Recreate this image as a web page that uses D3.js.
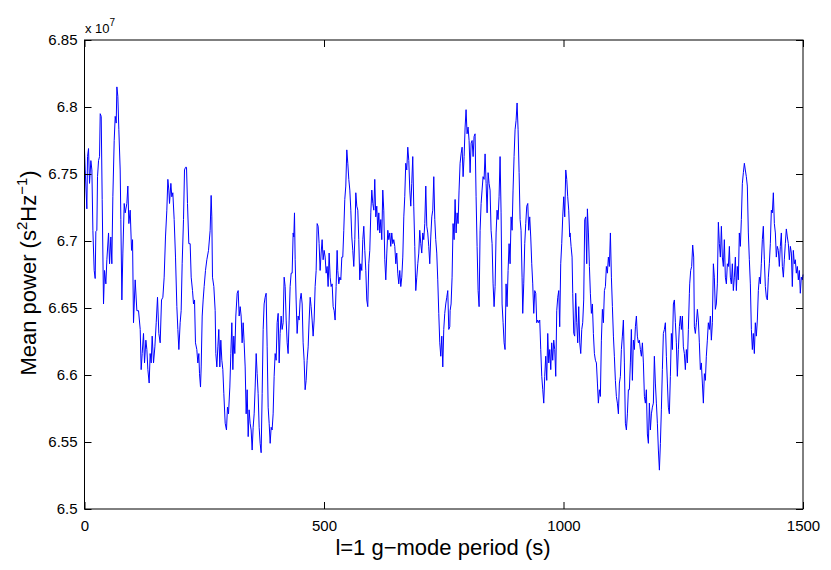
<!DOCTYPE html>
<html><head><meta charset="utf-8">
<script src="https://cdn.jsdelivr.net/npm/d3@7"></script>
<style>
body{margin:0;background:#fff}
text{font-family:"Liberation Sans",Arial,Helvetica,sans-serif;fill:#000}
</style>
</head><body>
<svg id="c" width="831" height="570"></svg>
<script>
// l=1 g-mode period (s)
const period = [
0,1.5,4.9,6.3,8.4,10.5,13.3,15.4,17.5,20.2,22.3,23.7,25.8,27.2,29.3,31.4,32.8,34.9,36.9,39.7,
41.8,44.6,46.7,50.2,52.3,55.0,57.1,59.2,62.0,64.1,66.2,67.6,69.6,71.7,74.5,75.9,78.0,80.1,82.9,85.0,
88.4,90.5,92.6,95.4,98.2,100.3,102.3,105.8,109.3,112.8,116.3,118.3,120.4,123.2,125.3,128.1,130.2,132.3,135.0,137.1,
139.2,141.3,144.1,146.9,149.7,152.4,155.2,158.0,160.8,163.6,166.3,169.1,171.9,174.0,176.1,177.5,180.3,182.3,184.4,187.2,
190.0,192.8,194.9,197.0,199.7,201.8,203.9,206.7,208.8,210.9,213.0,215.0,217.8,220.6,222.7,225.5,227.6,229.7,231.7,234.5,
236.6,238.7,240.1,242.2,243.6,245.7,247.7,249.8,252.6,255.4,258.9,
262.3,264.4,265.8,267.2,270.0,272.8,274.2,276.3,278.4,280.4,282.5,284.6,286.7,288.8,290.9,293.7,296.4,298.5,300.6,303.4,
305.5,307.6,309.7,311.7,313.8,315.9,318.7,320.8,322.9,325.0,327.0,329.1,331.2,333.3,335.4,337.5,339.6,341.7,343.7,345.8,
347.9,350.0,352.1,354.2,356.3,358.4,360.4,362.5,364.6,366.7,368.8,370.9,373.0,375.0,377.1,379.2,381.3,383.4,385.5,387.6,
389.7,391.7,393.8,395.9,398.0,400.1,402.2,404.3,406.4,408.4,410.5,412.6,414.7,416.8,418.9,421.0,423.1,425.1,427.2,429.3,
431.4,433.5,435.6,437.0,438.4,439.8,441.8,443.9,446.0,448.1,450.2,452.3,454.4,456.4,458.5,460.6,462.7,464.8,466.9,469.0,
471.1,473.1,475.2,477.3,479.4,481.5,483.6,485.7,487.8,489.8,491.9,494.0,496.1,498.2,500.3,502.4,504.5,506.5,508.6,510.7,512.8,
514.9,517.0,519.1,521.2,523.2,525.3,527.4,528.8,530.9,533.0,535.1,537.2,539.2,541.3,543.4,545.5,547.6,549.7,551.8,553.9,
556.0,558.0,560.1,562.2,564.3,566.4,568.5,570.6,572.6,574.7,576.8,578.9,581.0,583.1,585.2,587.3,589.3,591.4,593.5,595.6,
597.7,599.8,601.9,604.0,606.0,608.1,610.2,612.3,614.4,616.5,618.6,620.6,622.7,624.8,626.9,629.0,631.1,633.2,635.3,637.3,
639.4,641.5,643.6,645.7,647.8,649.9,651.9,654.0,656.1,658.2,660.3,662.4,664.5,666.6,668.6,670.7,672.8,674.9,677.0,679.1,
681.2,683.2,685.3,687.4,689.5,691.6,693.7,695.8,697.9,699.9,702.0,704.1,706.2,708.3,710.4,712.5,714.6,716.6,718.7,720.8,
722.9,725.0,727.1,729.2,731.3,733.3,735.4,737.5,739.6,741.7,743.8,745.9,748.0,750.0,752.1,754.2,756.3,758.4,760.5,762.6,
763.3,765.3,767.4,769.5,771.6,773.7,775.8,777.9,779.9,782.0,784.1,786.2,788.3,790.4,792.5,794.6,796.6,798.7,800.8,802.9,
805.0,807.1,809.2,811.3,813.3,815.4,817.5,819.6,821.7,823.8,825.9,828.0,830.0,832.1,834.2,836.3,838.4,840.5,842.6,844.6,
846.7,848.8,850.9,853.0,855.1,857.2,859.3,861.3,863.4,865.5,867.6,869.7,871.8,873.9,876.0,878.0,880.1,882.2,884.3,886.4,
888.5,890.6,892.7,894.7,896.8,898.9,901.0,903.1,905.2,907.3,909.4,911.4,913.5,914.9,917.0,919.1,921.2,923.3,925.4,927.4,
929.5,931.6,933.7,935.8,937.9,940.0,942.1,944.1,946.2,948.3,950.4,952.5,954.6,956.7,958.8,960.8,962.9,965.0,967.1,969.2,
971.3,973.4,975.4,977.5,979.6,981.7,983.8,985.9,988.0,990.1,992.1,994.2,996.3,998.4,1000.5,1002.6,1004.7,1006.8,1008.8,1010.9,1013.0,
1013.7,1015.8,1017.9,1019.3,1021.4,1023.4,1025.5,1027.6,1029.7,1031.8,1033.9,1036.0,1038.1,1040.1,1042.2,1044.3,1046.4,1048.5,1049.9,1052.0,
1054.1,1056.1,1058.2,1060.3,1062.4,1064.5,1066.6,1068.7,1070.8,1072.8,1074.9,1077.0,1079.1,1081.2,1083.3,1085.4,1087.5,1089.5,1091.6,1093.7,
1095.8,1097.9,1100.0,1102.1,1104.2,1106.2,1108.3,1110.4,1112.5,1114.6,1116.7,1118.8,1120.8,1122.9,1125.0,1127.1,1129.2,1131.3,1133.4,1135.5,
1137.5,1139.6,1141.7,1143.8,1145.9,1148.0,1150.1,1152.2,1154.2,1156.3,1158.4,1160.5,1162.6,1164.7,1166.8,1168.9,1170.9,1173.0,1175.1,1177.2,
1179.3,1181.4,1183.5,1185.6,1187.6,1189.7,1191.8,1193.9,1196.0,1198.1,1200.2,1202.3,1204.3,1206.4,1208.5,1210.6,1212.7,1214.8,1216.9,1218.9,
1221.0,1223.1,1225.2,1227.3,1229.4,1231.5,1233.6,1235.6,1237.7,1239.8,1241.9,1244.0,1246.1,1248.2,1250.2,1252.3,1254.4,1256.5,1258.6,1260.7,1262.8,
1263.5,1265.5,1267.6,1269.7,1271.8,1273.2,1275.3,1277.4,1279.5,1281.5,1283.6,1285.7,1287.8,1289.9,1292.0,1294.1,1296.2,1298.2,1300.3,1302.4,
1304.5,1306.6,1308.7,1310.8,1312.9,1314.9,1317.0,1319.1,1321.2,1323.3,1325.4,1327.5,1329.6,1331.6,1333.7,1335.8,1337.9,1340.0,1342.1,1344.2,
1346.3,1348.3,1350.4,1352.5,1354.6,1356.7,1358.8,1360.9,1362.9,1365.0,1367.1,1369.2,1371.3,1373.4,1375.5,1377.6,1379.6,1381.7,1383.8,1385.9,
1388.0,1390.1,1392.2,1394.3,1396.3,1398.4,1400.5,1402.6,1404.7,1406.8,1408.9,1411.0,1413.0,1415.1,1417.2,1419.3,1421.4,1423.5,1425.6,1427.7,
1429.7,1431.8,1433.9,1436.0,1438.1,1440.2,1442.3,1444.3,1446.4,1448.5,1450.6,1452.7,1454.8,1456.9,1459.0,1461.0,1463.1,1465.2,1467.3,1469.4,
1471.5,1473.6,1475.7,1477.7,1479.8,1481.9,1484.0,1486.1,1488.2,1490.3,1492.4,1494.4,1496.5,1498.6,1500
];
// Mean power, in units of 10^7 s^2 Hz^-1
const power = [
6.768,6.753,6.724,6.763,6.769,6.743,6.760,6.753,6.708,6.678,6.672,6.707,6.708,6.748,6.760,6.763,6.795,6.793,6.731,6.653,
6.678,6.668,6.686,6.706,6.683,6.703,6.683,6.733,6.775,6.793,6.788,6.815,6.808,6.783,6.753,6.716,6.656,6.691,6.728,6.721,
6.728,6.741,6.713,6.723,6.693,6.701,6.639,6.671,6.648,6.648,6.634,6.604,6.616,6.631,6.609,6.626,6.619,6.604,6.594,6.616,
6.609,6.629,6.609,6.621,6.639,6.658,6.631,6.624,6.656,6.658,6.673,6.703,6.723,6.746,6.738,6.728,6.743,6.733,6.736,6.716,
6.688,6.651,6.634,6.619,6.639,6.648,6.683,6.716,6.753,6.755,6.755,6.728,6.698,6.698,6.673,6.663,6.653,6.656,6.624,6.619,
6.609,6.616,6.601,6.591,6.606,6.644,6.656,6.666,6.678,6.686,6.693,
6.708,6.734,6.718,6.673,6.666,6.648,6.616,6.606,6.621,6.634,6.606,6.626,6.611,6.604,6.586,6.564,6.559,6.576,6.571,6.591,
6.616,6.639,6.604,6.629,6.616,6.644,6.661,6.663,6.644,6.651,6.644,6.624,6.639,6.624,6.606,6.571,6.589,6.554,6.574,6.564,
6.559,6.544,6.561,6.571,6.591,6.616,6.601,6.586,6.561,6.549,6.542,6.586,6.634,6.653,6.658,6.661,6.621,6.576,6.564,6.549,
6.561,6.559,6.571,6.599,6.616,6.611,6.639,6.646,6.609,6.631,6.644,6.634,6.639,6.673,6.666,6.641,6.624,6.616,6.641,6.666,
6.676,6.676,6.706,6.703,6.721,6.686,6.656,6.631,6.644,6.641,6.656,6.661,6.653,6.624,6.611,6.589,6.596,6.611,6.621,6.641,
6.658,6.651,6.641,6.629,6.641,6.666,6.678,6.713,6.711,6.698,6.678,6.691,6.701,6.686,6.693,6.688,6.676,6.681,6.666,6.691,6.673,
6.666,6.668,6.651,6.648,6.641,6.666,6.693,6.678,6.668,6.673,6.671,6.688,6.688,6.708,6.731,6.741,6.768,6.758,6.746,6.738,
6.723,6.703,6.693,6.681,6.701,6.736,6.726,6.723,6.701,6.671,6.683,6.678,6.701,6.711,6.693,6.678,6.656,6.651,6.683,6.693,
6.721,6.738,6.728,6.723,6.746,6.718,6.726,6.708,6.721,6.706,6.716,6.701,6.738,6.723,6.686,6.671,6.691,6.708,6.701,6.706,
6.696,6.706,6.698,6.701,6.696,6.683,6.691,6.676,6.668,6.678,6.666,6.673,6.688,6.718,6.733,6.758,6.753,6.770,6.760,6.738,
6.726,6.743,6.763,6.726,6.696,6.663,6.673,6.683,6.691,6.708,6.698,6.691,6.706,6.701,6.713,6.741,6.711,6.706,6.696,6.683,
6.703,6.718,6.723,6.748,6.716,6.701,6.691,6.671,6.646,6.624,6.614,6.629,6.606,6.634,6.646,6.653,6.658,6.663,6.634,6.636,
6.648,6.653,6.673,6.713,6.701,6.731,6.706,6.721,6.713,6.738,6.758,6.765,6.770,6.748,6.763,6.785,6.798,6.780,6.785,6.775,
6.751,6.773,6.775,6.763,6.778,6.780,6.733,6.696,6.663,6.651,6.708,6.728,6.738,6.748,6.746,6.765,6.743,6.721,6.751,6.743,
6.738,6.708,6.698,6.668,6.651,6.666,6.706,6.723,6.716,6.733,6.763,6.721,6.653,6.639,6.624,6.619,6.668,6.651,6.678,6.698,
6.683,6.718,6.708,6.738,6.763,6.783,6.790,6.803,6.783,6.751,6.716,6.708,6.673,6.646,6.668,6.698,6.713,6.726,6.728,6.708,
6.718,6.703,6.683,6.668,6.646,6.663,6.661,6.639,6.641,6.639,6.641,6.619,6.599,6.589,6.579,6.599,6.614,6.596,6.631,6.609,
6.619,6.604,6.624,6.611,6.626,6.619,6.599,6.648,6.658,6.663,6.636,6.683,6.698,6.718,6.733,6.718,6.753,6.746,6.733,6.723,6.703,
6.706,6.696,6.688,6.661,6.631,6.629,6.661,6.639,6.624,6.651,6.624,6.616,6.634,6.639,6.656,6.716,6.718,6.683,6.724,6.706,
6.681,6.661,6.646,6.653,6.631,6.616,6.611,6.609,6.594,6.579,6.589,6.584,6.626,6.649,6.639,6.663,6.666,6.681,6.676,6.688,
6.681,6.706,6.673,6.651,6.629,6.614,6.596,6.584,6.579,6.571,6.594,6.599,6.619,6.629,6.641,6.609,6.564,6.559,6.571,6.589,
6.589,6.609,6.634,6.596,6.626,6.619,6.636,6.644,6.629,6.624,6.626,6.619,6.614,6.624,6.609,6.584,6.579,6.589,6.556,6.549,
6.579,6.559,6.571,6.576,6.579,6.614,6.594,6.579,6.564,6.544,6.529,6.549,6.574,6.604,6.631,6.634,6.639,6.614,6.594,6.576,
6.571,6.599,6.631,6.619,6.653,6.656,6.639,6.624,6.599,6.619,6.636,6.644,6.634,6.644,6.621,6.616,6.604,6.619,6.609,6.634,6.661,
6.668,6.678,6.681,6.697,6.688,6.636,6.631,6.639,6.649,6.641,6.624,6.604,6.609,6.594,6.579,6.601,6.596,6.614,6.626,6.639,
6.634,6.644,6.626,6.639,6.683,6.673,6.649,6.653,6.668,6.714,6.698,6.688,6.711,6.688,6.681,6.701,6.673,6.668,6.683,6.681,
6.696,6.673,6.668,6.683,6.663,6.673,6.688,6.663,6.681,6.671,6.706,6.696,6.716,6.743,6.751,6.758,6.753,6.748,6.741,6.706,
6.686,6.668,6.634,6.619,6.631,6.616,6.639,6.629,6.641,6.663,6.673,6.668,6.683,6.701,6.711,6.686,6.666,6.658,6.656,6.673,
6.683,6.698,6.723,6.721,6.736,6.713,6.706,6.688,6.696,6.693,6.681,6.696,6.706,6.681,6.673,6.686,6.698,6.709,6.703,6.698,
6.686,6.696,6.691,6.666,6.693,6.683,6.686,6.676,6.681,6.671,6.678,6.661,6.673,6.671,6.675
];
const xTicks = [0, 500, 1000, 1500];
const yTicks = [6.5, 6.55, 6.6, 6.65, 6.7, 6.75, 6.8, 6.85];

const svg = d3.select("#c");
const L = 84.5, R = 803, T = 40, B = 509;
const x = d3.scaleLinear().domain([0, 1500]).range([L, R]);
const y = d3.scaleLinear().domain([6.5, 6.85]).range([B, T]);

// data line
const idx = d3.range(Math.min(period.length, power.length));
svg.append("path")
  .attr("d", d3.line().x(i => x(period[i])).y(i => y(power[i]))(idx))
  .attr("fill", "none").attr("stroke", "#0000ff").attr("stroke-width", 1)
  .attr("stroke-linejoin", "round");

function styleAxis(g){
  g.select(".domain").remove();
  g.selectAll(".tick line").attr("stroke", "#000");
  g.selectAll(".tick text").attr("font-size", 15).attr("fill", "#000")
    .style("font-family", '"Liberation Sans", Arial, sans-serif');
}
svg.append("g").attr("transform", `translate(0,${B})`)
  .call(d3.axisBottom(x).tickValues(xTicks).tickSize(-7).tickPadding(11).tickFormat(d3.format("d")))
  .call(styleAxis);
svg.append("g").attr("transform", `translate(0,${T})`)
  .call(d3.axisTop(x).tickValues(xTicks).tickSize(-7).tickFormat(""))
  .call(styleAxis);
svg.append("g").attr("transform", `translate(${L},0)`)
  .call(d3.axisLeft(y).tickValues(yTicks).tickSize(-7).tickPadding(7).tickFormat(d => String(+d.toFixed(2))))
  .call(styleAxis);
svg.append("g").attr("transform", `translate(${R},0)`)
  .call(d3.axisRight(y).tickValues(yTicks).tickSize(-7).tickFormat(""))
  .call(styleAxis);

// box
svg.append("rect").attr("x", L).attr("y", T).attr("width", R - L).attr("height", B - T)
  .attr("fill", "none").attr("stroke", "#000").attr("stroke-width", 1);

// exponent
const ex = svg.append("text").attr("x", 85).attr("y", 33).attr("font-size", 13);
ex.append("tspan").text("x 10");
ex.append("tspan").attr("font-size", 10).attr("dy", -7).text("7");

// x label
svg.append("text").attr("x", 443).attr("y", 555).attr("text-anchor", "middle")
  .attr("font-size", 22).text("l=1 g\u2212mode period (s)");

// y label
const yl = svg.append("text").attr("transform", "translate(36,273) rotate(-90)")
  .attr("text-anchor", "middle").attr("font-size", 22);
yl.append("tspan").text("Mean power (s");
yl.append("tspan").attr("font-size", 15).attr("dy", -9).text("2");
yl.append("tspan").attr("dy", 9).text("Hz");
yl.append("tspan").attr("font-size", 15).attr("dy", -9).text("\u22121");
yl.append("tspan").attr("dy", 9).text(")");
</script>
</body></html>
